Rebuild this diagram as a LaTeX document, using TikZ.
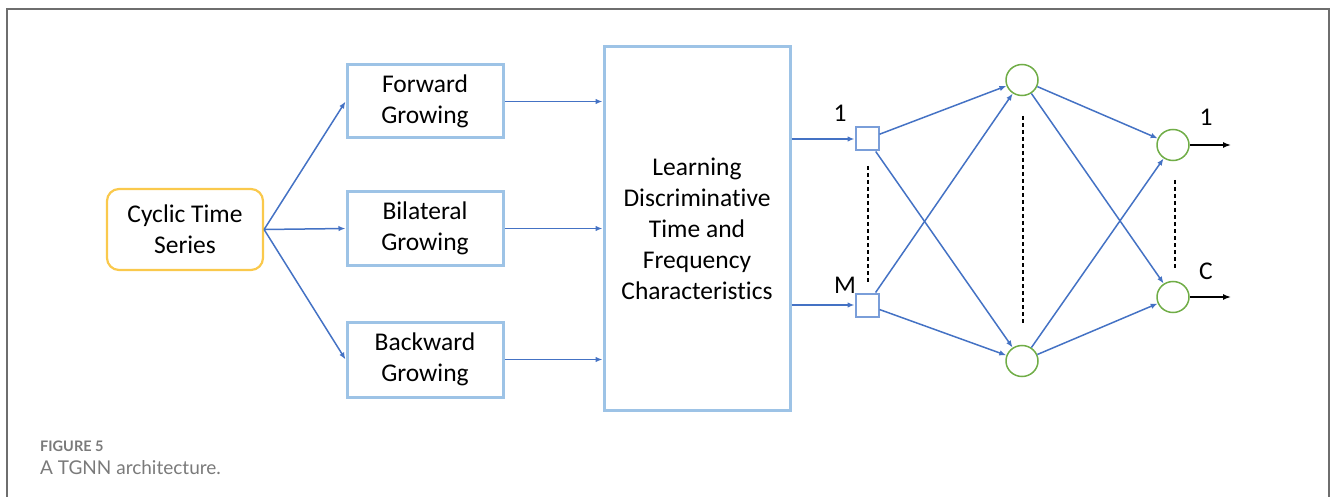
\documentclass[tikz,border=0pt]{standalone}
\usepackage{fontspec}
\setmainfont{Carlito}[Ligatures={NoCommon}]
\newfontfamily\capfont{Lato}
\usetikzlibrary{arrows.meta,shapes.geometric}
\definecolor{boxblue}{HTML}{9DC3E6}
\definecolor{arrblue}{HTML}{4472C4}
\definecolor{sqblue}{HTML}{7A9ED9}
\definecolor{cycyel}{HTML}{FAC94C}
\definecolor{nodegreen}{HTML}{70AD47}
\definecolor{framegray}{HTML}{6E6E6E}
\definecolor{capgray}{HTML}{7A7A7A}
\begin{document}
\begin{tikzpicture}[x=1pt,y=-1pt,
  txt/.style={font=\fontsize{25.5}{31}\selectfont, align=center, text=black},
  procbox/.style={txt, draw=boxblue, line width=3pt, inner sep=0pt},
  cycbox/.style={txt, draw=cycyel, line width=2.2pt, rounded corners=12pt, inner sep=0pt},
  sqnode/.style={draw=sqblue, line width=2pt, minimum width=23, minimum height=23, inner sep=0pt},
  cnode/.style={draw=nodegreen, line width=1.5pt, ellipse, minimum width=32, minimum height=31, inner sep=0pt},
  conn/.style={draw=arrblue, line width=1.5pt, -{Latex[length=7,width=5.5]}},
  outarr/.style={draw=black, line width=1.5pt, -{Latex[length=8,width=6]}},
  dots/.style={draw=black, line width=1.3pt, dash pattern=on 4pt off 3pt},
  lbl/.style={font=\fontsize{25.5}{28}\selectfont, text=black, inner sep=0pt}
]
\useasboundingbox (0,0) rectangle (1330,497);
\draw[framegray, line width=2pt] (7,497) -- (7,9) -- (1329,9) -- (1329,497);

\node[cycbox, minimum width=156, minimum height=81] (cts) at (185,229.5) {Cyclic Time\\Series};
\node[procbox, minimum width=156, minimum height=73] (fwd) at (425,101.5) {Forward\\Growing};
\node[procbox, minimum width=156, minimum height=73] (bil) at (425,228.5) {Bilateral\\Growing};
\node[procbox, minimum width=156, minimum height=75] (bwd) at (425,359.5) {Backward\\Growing};
\node[procbox, minimum width=186, minimum height=363] (learn) at (697,228.5) {Learning\\Discriminative\\Time and\\Frequency\\Characteristics};

\node[sqnode] (s1) at (867,139) {};
\node[sqnode] (sM) at (867,305) {};
\node[cnode] (h1) at (1022,80) {};
\node[cnode] (hN) at (1022,361) {};
\node[cnode] (o1) at (1173,145) {};
\node[cnode] (oC) at (1173,297) {};

\node[lbl] (l1) at (840,113) {1};
\node[lbl] (lM) at (845,285) {M};
\node[lbl] (r1) at (1206,117) {1};
\node[lbl] (rC) at (1206,271) {C};

\coordinate (e1) at (1231,145);
\coordinate (eC) at (1231,297);

\draw[conn] (cts.east) -- (fwd.west);
\draw[conn] (cts.east) -- (bil.west);
\draw[conn] (cts.east) -- (bwd.west);
\draw[conn] (fwd.east) -- (learn.west |- fwd.east);
\draw[conn] (bil.east) -- (learn.west |- bil.east);
\draw[conn] (bwd.east) -- (learn.west |- bwd.east);
\draw[conn] (learn.east |- s1) -- (s1.west);
\draw[conn] (learn.east |- sM) -- (sM.west);
\draw[conn] (s1) -- (h1);
\draw[conn] (s1) -- (hN);
\draw[conn] (sM) -- (h1);
\draw[conn] (sM) -- (hN);
\draw[conn] (h1) -- (o1);
\draw[conn] (h1) -- (oC);
\draw[conn] (hN) -- (o1);
\draw[conn] (hN) -- (oC);
\draw[outarr] (o1.east) -- (e1);
\draw[outarr] (oC.east) -- (eC);

\draw[dots] (868,166) -- (868,283);
\draw[dots] (1023,116) -- (1023,324);
\draw[dots] (1175,180) -- (1175,268);

\node[anchor=base west, inner sep=0pt, text=capgray, font=\capfont\bfseries\fontsize{14.5}{16}\selectfont] (cap1) at (40,451) {FIGURE 5};
\node[anchor=base west, inner sep=0pt, text=capgray, font=\capfont\fontsize{19}{22}\selectfont] (cap2) at (40,474) {A TGNN architecture.};
\end{tikzpicture}
\end{document}
